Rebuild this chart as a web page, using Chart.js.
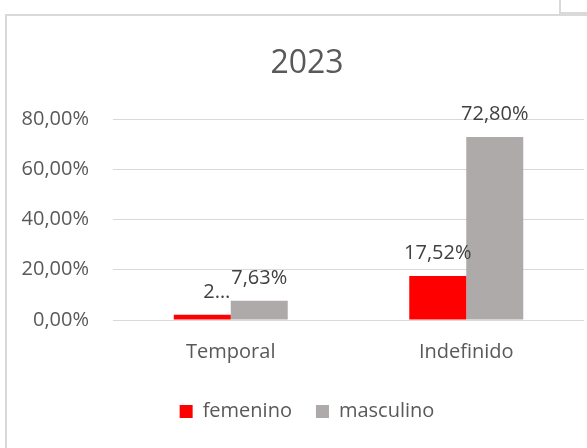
<!DOCTYPE html>
<html>
<head>
<meta charset="utf-8">
<script src="https://cdn.jsdelivr.net/npm/chart.js@4"></script>
<style>
  html, body { margin: 0; padding: 0; background: #fff; overflow: hidden; }
  body { width: 587px; height: 448px; position: relative; }
  #frame {
    position: absolute; left: 5px; top: 14px; width: 620px; height: 460px;
    border-left: 2px solid #d9d9d9; border-top: 2px solid #d9d9d9;
  }
  #behind {
    position: absolute; left: 559px; top: -4px; width: 40px; height: 16px;
    border-left: 2px solid #d9d9d9; border-bottom: 2px solid #d9d9d9;
  }
  #chart { position: absolute; left: 7px; top: 16px; }
</style>
</head>
<body>
<div id="behind"></div>
<div id="frame"></div>
<canvas id="chart" width="600" height="432"></canvas>
<script>
const title = "2023";
const categories = ["Temporal", "Indefinido"];
const femenino = [2.05, 17.52];
const masculino = [7.63, 72.80];
const yTicks = [0, 20, 40, 60, 80];

const textColor = "#595959";
const labelColor = "#404040";
const fontFamily = '"Open Sans", "DejaVu Sans", sans-serif';

function formatPercent(value) {
  return `${Number(value).toFixed(2).replace(".", ",")}%`;
}

// data labels above bars; a label that runs into its neighbour gets cut to "2…"
const valueLabels = {
  id: "valueLabels",
  afterDatasetsDraw(chart) {
    const ctx = chart.ctx;
    const gap = 23;
    const lineH = 22;
    ctx.save();
    ctx.font = `20px ${fontFamily}`;
    ctx.fillStyle = labelColor;
    ctx.textBaseline = "middle";
    categories.forEach((cat, j) => {
      const boxes = chart.data.datasets.map((ds, i) => {
        const bar = chart.getDatasetMeta(i).data[j];
        const text = formatPercent(ds.data[j]);
        return { text, x: bar.x, y: bar.y - gap, w: ctx.measureText(text).width };
      });
      boxes.forEach((b, i) => {
        const next = boxes[i + 1];
        if (next && b.x + b.w / 2 + 4 > next.x - next.w / 2 && Math.abs(b.y - next.y) < lineH) {
          ctx.textAlign = "right";
          ctx.fillText(b.text.charAt(0) + "…", next.x - next.w / 2 - 1, b.y);
        } else {
          ctx.textAlign = "center";
          ctx.fillText(b.text, b.x, b.y);
        }
      });
    });
    ctx.restore();
  }
};

// let the y tick labels use the space left of the axis box (no clipping)
const widenYAxis = {
  id: "widenYAxis",
  afterLayout(chart) {
    chart.scales.y.left = 0;
  }
};

new Chart(document.getElementById("chart"), {
  type: "bar",
  data: {
    labels: categories,
    datasets: [
      {
        label: "femenino",
        data: femenino,
        backgroundColor: "#ff0000",
        borderWidth: 0,
        barPercentage: 1,
        categoryPercentage: 0.484
      },
      {
        label: "masculino",
        data: masculino,
        backgroundColor: "#aeaaaa",
        borderWidth: 0,
        barPercentage: 1,
        categoryPercentage: 0.484
      }
    ]
  },
  options: {
    responsive: false,
    animation: false,
    layout: {
      padding: { left: 23, right: 23, top: 0, bottom: 16.5 }
    },
    plugins: {
      title: {
        display: true,
        text: title,
        color: textColor,
        font: { family: fontFamily, size: 32, weight: "normal", lineHeight: 1.2 },
        padding: { top: 28.8, bottom: 35.8 }
      },
      legend: {
        position: "bottom",
        labels: {
          color: textColor,
          font: { family: fontFamily, size: 20 },
          boxWidth: 13,
          boxHeight: 13,
          padding: 24
        }
      },
      tooltip: { enabled: false }
    },
    scales: {
      x: {
        grid: { display: false },
        border: { display: false },
        ticks: {
          color: textColor,
          font: { family: fontFamily, size: 20 },
          padding: 12
        },
        afterFit: (scale) => { scale.height = 57.5; }
      },
      y: {
        min: yTicks[0],
        max: yTicks[yTicks.length - 1],
        afterBuildTicks: (scale) => { scale.ticks = yTicks.map(v => ({ value: v })); },
        grid: { color: "#d9d9d9", lineWidth: 1, drawTicks: false },
        border: { display: false },
        ticks: {
          color: textColor,
          font: { family: fontFamily, size: 20 },
          padding: 24,
          callback: (value) => formatPercent(value)
        },
        afterFit: (scale) => { scale.width = 83; }
      }
    }
  },
  plugins: [valueLabels, widenYAxis]
});
</script>
</body>
</html>
